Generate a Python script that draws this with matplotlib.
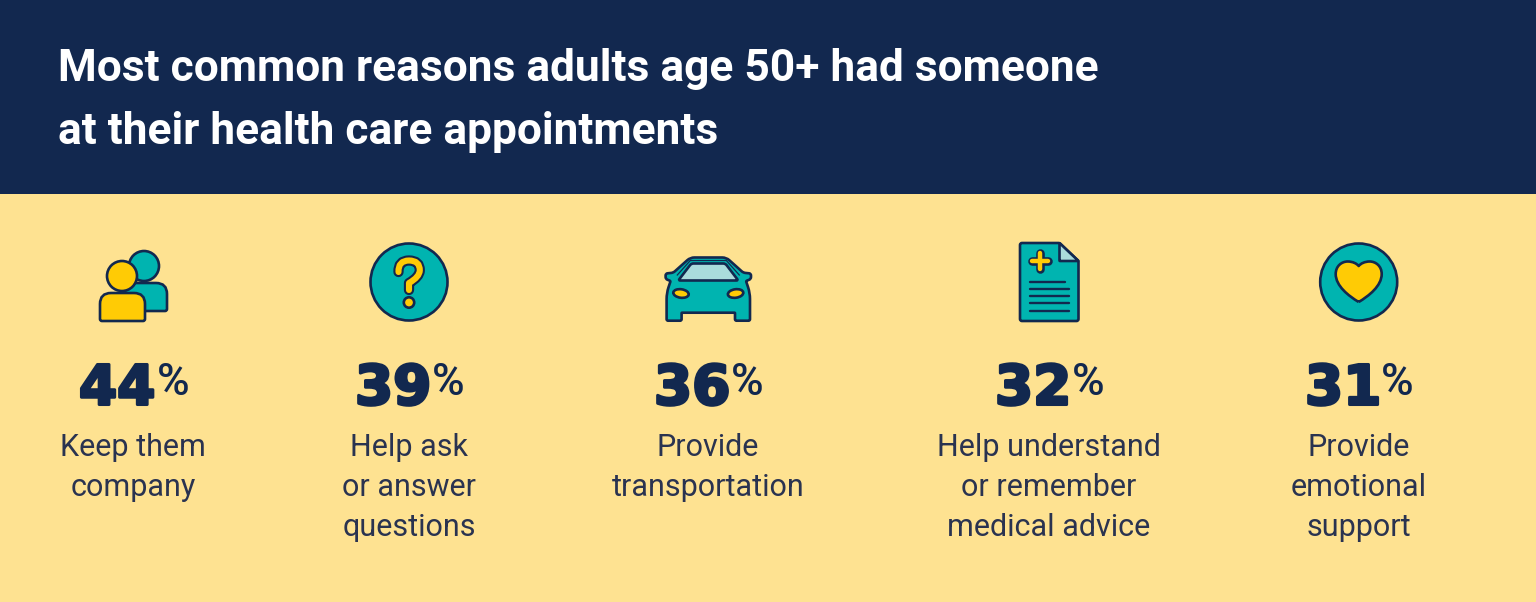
import matplotlib
matplotlib.use('Agg')
import matplotlib.pyplot as plt
import numpy as np
import matplotlib.patheffects as pe
from matplotlib.patches import Circle, Ellipse, PathPatch, Rectangle
from matplotlib.path import Path

title_lines = ['Most common reasons adults age 50+ had someone', 'at their health care appointments']
values = [44, 39, 36, 32, 31]
labels = [['Keep them', 'company'],
          ['Help ask', 'or answer', 'questions'],
          ['Provide', 'transportation'],
          ['Help understand', 'or remember', 'medical advice'],
          ['Provide', 'emotional', 'support']]

# layout, all in pixels of the original picture
label_x = [133, 409, 708, 1049, 1359]
number_x = [79, 355, 654, 995, 1305]
percent_x = [157, 432, 731, 1072, 1381]

NAVY = '#12284f'
BG = '#fee291'
TEAL = '#00b4b0'
YELLOW = '#ffcb05'
LIGHT = '#aadcdc'
TEXT = '#2a3350'
LW = 1.9

fig = plt.figure(figsize=(15.36, 6.02), dpi=100)
ax = fig.add_axes([0, 0, 1, 1])
ax.set_xlim(0, 1536)
ax.set_ylim(602, 0)
ax.axis('off')

ax.add_patch(Rectangle((0, 0), 1536, 602, fc=BG, ec='none', zorder=0))
ax.add_patch(Rectangle((0, 0), 1536, 194, fc=NAVY, ec='none', zorder=0))

for line, y in zip(title_lines, [81, 144]):
    ax.text(58, y, line, color='white', fontsize=31.9, family='Roboto', weight='bold', va='baseline', ha='left')

for i, v in enumerate(values):
    ax.text(number_x[i], 404.5, str(v), color=NAVY, fontsize=39.5, family='DejaVu Sans', weight='bold',
            va='baseline', ha='left', path_effects=[pe.withStroke(linewidth=2.2, foreground=NAVY)])
    ax.text(percent_x[i], 395, '%', color=NAVY, fontsize=32, family='Roboto', weight='medium',
            va='baseline', ha='left')
    for j, line in enumerate(labels[i]):
        ax.text(label_x[i], 456 + j * 40, line, color=TEXT, fontsize=22, family='Roboto',
                va='baseline', ha='center')


def round_poly(points, radii, fc, z=3):
    # closed outline with a quadratic corner at every vertex
    n = len(points)
    verts, codes = [], []
    for k in range(n):
        p = np.array(points[k], float)
        a = np.array(points[k - 1], float)
        b = np.array(points[(k + 1) % n], float)
        r = radii[k] if np.ndim(radii) else radii
        r1 = min(r, np.linalg.norm(a - p) / 2)
        r2 = min(r, np.linalg.norm(b - p) / 2)
        p1 = p + (a - p) / np.linalg.norm(a - p) * r1
        p2 = p + (b - p) / np.linalg.norm(b - p) * r2
        verts += [p1, p, p2]
        codes += [Path.MOVETO if k == 0 else Path.LINETO, Path.CURVE3, Path.CURVE3]
    verts.append(verts[0])
    codes.append(Path.CLOSEPOLY)
    ax.add_patch(PathPatch(Path(verts, codes), fc=fc, ec=NAVY, lw=LW, joinstyle='round', zorder=z))


# people
ax.add_patch(Circle((144, 266), 15, fc=TEAL, ec=NAVY, lw=LW, zorder=3))
round_poly([(125, 283), (167, 283), (167, 311), (125, 311)], [8, 11, 2, 2], TEAL, 3)
ax.add_patch(Circle((122, 276), 15, fc=YELLOW, ec=NAVY, lw=LW, zorder=5))
round_poly([(100, 293), (145, 293), (145, 321), (100, 321)], [11, 11, 2, 2], YELLOW, 4)

# question mark
ax.add_patch(Circle((409, 282), 38.5, fc=TEAL, ec=NAVY, lw=LW, zorder=3))
q_verts = [(398.5, 272), (398, 260.5), (409, 260.5), (420, 260.5), (419.8, 270.5), (419.5, 277), (409, 283),
           (409, 285), (409, 290)]
q_codes = [Path.MOVETO, Path.CURVE3, Path.CURVE3, Path.CURVE3, Path.CURVE3, Path.CURVE3, Path.CURVE3,
           Path.LINETO, Path.LINETO]
q_path = Path(q_verts, q_codes)
ax.add_patch(PathPatch(q_path, fc='none', ec=NAVY, lw=7.4, capstyle='round', joinstyle='round', zorder=4))
ax.add_patch(PathPatch(q_path, fc='none', ec=YELLOW, lw=4.4, capstyle='round', joinstyle='round', zorder=5))
ax.add_patch(Circle((409, 302.5), 5.2, fc=YELLOW, ec=NAVY, lw=LW, zorder=5))

# car
cx = 708.3
half = [(18, 257.5), (35, 272.7), (42.7, 273.5), (42.7, 279), (37.7, 281), (41.7, 293), (41.7, 320.7),
        (26.7, 320.7), (26.7, 312.7)]
half_r = [4, 2, 2, 2, 1, 6, 1.5, 1.5, 0.5]
car = [(cx + dx, y) for dx, y in half] + [(cx - dx, y) for dx, y in reversed(half)]
round_poly(car, half_r + half_r[::-1], TEAL)
ax.plot([cx - 31, cx - 18, cx + 18, cx + 31], [275, 260.5, 260.5, 275], color=NAVY, lw=0.9, zorder=4)
round_poly([(cx - 30, 280.5), (cx + 30, 280.5), (cx + 17, 263.5), (cx - 17, 263.5)], 2, LIGHT, 5)
for side in [-1, 1]:
    ax.add_patch(Ellipse((cx + side * 27.3, 293.5), 15.5, 8.5, angle=side * -8, fc=YELLOW, ec=NAVY, lw=LW, zorder=5))

# document
round_poly([(1020, 243), (1059.5, 243), (1078.5, 261), (1078.5, 321), (1020, 321)], [2, 1, 1, 2, 2], TEAL)
round_poly([(1059.5, 243), (1078.5, 261), (1059.5, 261)], 0.5, LIGHT, 4)
plus_arms = [([1040, 1040], [253.3, 268.7]), ([1032.3, 1047.7], [261, 261])]
for x_pts, y_pts in plus_arms:
    ax.plot(x_pts, y_pts, color=NAVY, lw=6.2, solid_capstyle='round', zorder=5)
for x_pts, y_pts in plus_arms:
    ax.plot(x_pts, y_pts, color=YELLOW, lw=3.2, solid_capstyle='round', zorder=6)
for y, x_end in zip([281.7, 289, 296, 303.3, 310.7], [1065, 1068.5, 1068.5, 1068.5, 1068.5]):
    ax.plot([1029.5, x_end], [y, y], color=NAVY, lw=1.7, solid_capstyle='round', zorder=5)

# heart
ax.add_patch(Circle((1358.7, 282), 38.5, fc=TEAL, ec=NAVY, lw=LW, zorder=3))
hx = 1358.7
h_verts = [(hx, 302), (hx - 10, 296), (hx - 23, 286), (hx - 23, 274),
           (hx - 23, 266), (hx - 17, 261.5), (hx - 11, 261.5),
           (hx - 6, 261.5), (hx - 2, 263.5), (hx, 266),
           (hx + 2, 263.5), (hx + 6, 261.5), (hx + 11, 261.5),
           (hx + 17, 261.5), (hx + 23, 266), (hx + 23, 274),
           (hx + 23, 286), (hx + 10, 296), (hx, 302)]
h_codes = [Path.MOVETO] + [Path.CURVE4] * 18
ax.add_patch(PathPatch(Path(h_verts, h_codes), fc=YELLOW, ec=NAVY, lw=LW, joinstyle='round', zorder=4))

fig.savefig('out.png', dpi=100)
